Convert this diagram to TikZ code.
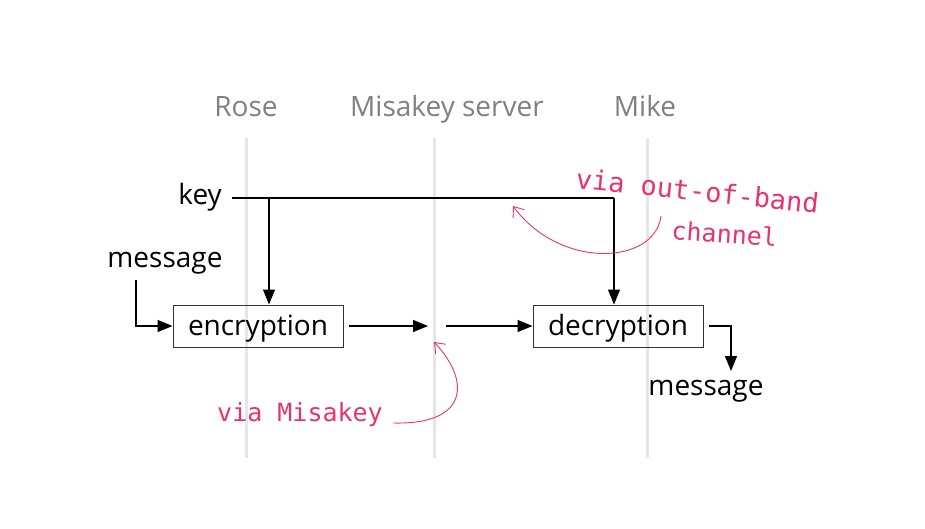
\documentclass[tikz,border=0pt]{standalone}
\usepackage{fontspec}
\setmainfont{Open Sans}
\newfontfamily\handfont{DejaVu Sans Mono}
\usetikzlibrary{arrows.meta}
\definecolor{lane}{HTML}{E6E6E6}
\definecolor{lanetext}{HTML}{808080}
\definecolor{pinkann}{HTML}{E8336F}
\tikzset{
  lanebar/.style={draw=lane, line width=3pt},
  lanelabel/.style={text=lanetext, font=\fontsize{28}{32}\selectfont, inner sep=0pt, anchor=base},
  procbox/.style={draw=black!80, line width=1pt, minimum width=170pt, minimum height=42pt, font=\fontsize{28}{32}\selectfont, inner sep=0pt, text depth=2pt},
  plain/.style={font=\fontsize{28}{32}\selectfont, inner sep=0pt},
  flow/.style={line width=1.3pt, -{Triangle[length=15pt,width=12pt]}},
  flowline/.style={line width=1.3pt},
  annot/.style={text=pinkann, font=\handfont\fontsize{25}{28}\selectfont, inner sep=0pt},
  annarrow/.style={draw=pinkann, line width=0.9pt, -{Straight Barb[length=9pt,width=14pt]}},
}
\begin{document}
\begin{tikzpicture}[x=1pt,y=-1pt]
\useasboundingbox (0,0) rectangle (925,529);
% lanes
\draw[lanebar] (246,138) -- (246,458);
\draw[lanebar] (434,138) -- (434,458);
\draw[lanebar] (647,138) -- (647,458);
\node[lanelabel] (rose) at (246,117) {Rose};
\node[lanelabel] (server) at (447,117) {Misakey server};
\node[lanelabel] (mike) at (645,117) {Mike};
% texts
\node[plain, anchor=base east] (key) at (222,205) {key};
\node[plain, anchor=base] (msgin) at (165,267) {message};
\node[plain, anchor=base] (msgout) at (706,395) {message};
% boxes
\node[procbox] (enc) at (258,326) {encryption};
\node[procbox] (dec) at (618,326) {decryption};
% coordinates
\coordinate (keystart) at (232,198);
\coordinate (keyjoin) at (269,198);
\coordinate (keycorner) at (614,198);
\coordinate (mid1) at (428,326);
\coordinate (mid2) at (446,326);
\coordinate (outcorner) at (731,326);
\coordinate (outend) at (731,371);
\coordinate (msgstart) at (136,280);
% key lines
\draw[flowline] (keystart) -- (keycorner);
\draw[flow] (keyjoin) -- (keyjoin |- enc.north);
\draw[flow] (keycorner) -- (keycorner |- dec.north);
% message in
\draw[flow] (msgstart) |- (enc.west);
% enc to server
\draw[flow] ([xshift=5pt]enc.east) -- (mid1);
\draw[flow] (mid2) -- (dec.west);
% output
\draw[flow] ([xshift=5pt]dec.east) -| (outend);
% annotations
\node[annot, font=\handfont\fontsize{27}{30}\selectfont, rotate=-6, anchor=base west] (oob) at (575,188) {via out-of-band};
\node[annot, rotate=-4, anchor=base west] (chan) at (671,239) {channel};
\draw[annarrow] (661,216) .. controls (655,265) and (560,270) .. (513,206);
\node[annot, anchor=base east] (vm) at (383,421) {via Misakey};
\draw[annarrow] (393,423) .. controls (470,425) and (470,380) .. (434,342);
\end{tikzpicture}
\end{document}
